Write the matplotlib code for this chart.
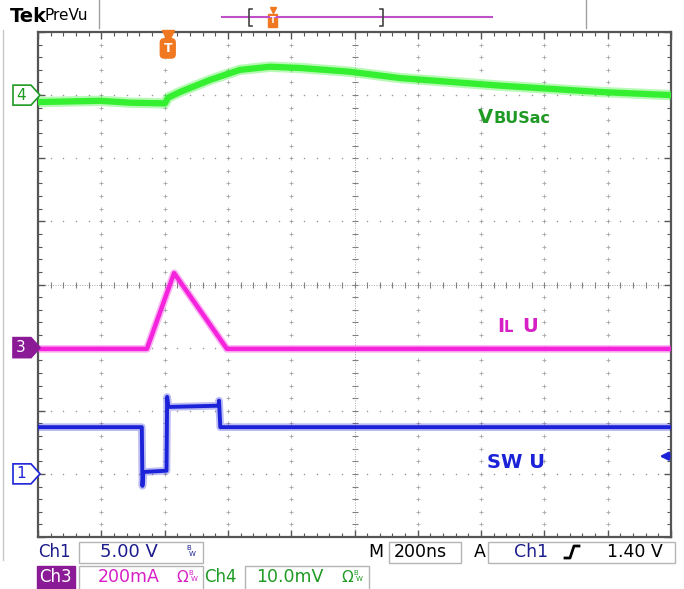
import numpy as np
import matplotlib
matplotlib.use('Agg')
from matplotlib import pyplot as plt
from matplotlib.patches import Polygon, Rectangle

W, H = 684, 589

# graticule box on the screen (pixels)
GX0, GX1, GY0, GY1 = 38, 671, 32, 537

# timebase / vertical setup
ns_per_div = 200
n_xdiv, n_ydiv = 10, 8
ch1_scale, ch1_pos = 5.0, 1.0      # V/div, div
ch3_scale, ch3_pos = 200.0, 3.0    # mA/div, div
ch4_scale, ch4_pos = 10.0, 7.0     # mV/div, div
trig_pos_ns = 410
trig_level = 1.40                  # V on Ch1

# Ch4 - VBUSac (mV)
t_vbus = [0, 196, 291, 401, 411, 449, 543, 638, 733, 828, 986, 1144, 1302, 1460, 1618, 1776, 2000]
v_vbus = [-1.1, -0.9, -1.2, -1.3, -0.4, 0.5, 2.4, 4.0, 4.5, 4.3, 3.7, 2.7, 2.1, 1.5, 1.0, 0.5, 0.0]

# Ch3 - IL U (mA)
t_il = [0, 344, 430, 597, 2000]
i_il = [-4, -4, 236, -4, -4]

# Ch1 - SW U (V)
t_sw = [0, 328, 330, 333, 406, 408, 412, 570, 572, 576, 2000]
v_sw = [3.7, 3.7, -0.95, 0.15, 0.25, 6.1, 5.3, 5.4, 5.8, 3.7, 3.7]

GREEN = '#34f030'
GREEN_TXT = '#1f9a24'
MAGENTA = '#f524dc'
MAG_TXT = '#d61fc4'
BLUE = '#1c22d8'
NAVY = '#1c1c8c'
PURPLE = '#8a1a96'
ORANGE = '#f07820'
GRID = '#a8a8a8'

fig = plt.figure(figsize=(W / 100, H / 100), dpi=100)
ax = fig.add_axes([GX0 / W, 1 - GY1 / H, (GX1 - GX0) / W, (GY1 - GY0) / H])
ax.set_xlim(0, n_xdiv * ns_per_div)
ax.set_ylim(0, n_ydiv)

# graticule
minor_x = np.arange(0, n_xdiv * ns_per_div + 1, ns_per_div / 5)
minor_y = np.arange(0, n_ydiv + 0.01, 0.2)
for k in range(1, n_xdiv):
    if k == n_xdiv // 2:
        continue
    ax.plot(np.full(minor_y.shape, k * ns_per_div), minor_y, '+', ms=2.6, mew=0.6, color=GRID, zorder=1)
for k in range(1, n_ydiv):
    if k == n_ydiv // 2:
        continue
    ax.plot(minor_x, np.full(minor_x.shape, float(k)), 'o', ms=1.1, mew=0, color='#9a9a9a', zorder=1)
xc, yc = n_xdiv * ns_per_div / 2, n_ydiv / 2
ax.axvline(xc, ls=(0, (1, 1.5)), lw=0.7, color=GRID, zorder=1)
ax.axhline(yc, ls=(0, (1, 1.5)), lw=0.7, color=GRID, zorder=1)
ax.plot(np.full(minor_y.shape, xc), minor_y, '_', ms=5, mew=0.8, color='#808080', zorder=1)
ax.plot(minor_x, np.full(minor_x.shape, yc), '|', ms=5, mew=0.8, color='#808080', zorder=1)

ax.set_xticks(np.arange(0, n_xdiv * ns_per_div + 1, ns_per_div))
ax.set_xticks(minor_x, minor=True)
ax.set_yticks(np.arange(0, n_ydiv + 1))
ax.set_yticks(minor_y, minor=True)
ax.tick_params(which='both', direction='in', top=True, right=True,
               labelbottom=False, labelleft=False, color='#555555')
ax.tick_params(which='major', length=5, width=1)
ax.tick_params(which='minor', length=3, width=0.8)
for s in ax.spines.values():
    s.set_color('#555555')
    s.set_linewidth(1.6)

# traces
y4 = ch4_pos + np.array(v_vbus) / ch4_scale
y3 = ch3_pos + np.array(i_il) / ch3_scale
y1 = ch1_pos + np.array(v_sw) / ch1_scale
ax.plot(t_vbus, y4, color=GREEN, lw=7.5, alpha=0.35, solid_joinstyle='round', zorder=3)
ax.plot(t_vbus, y4, color=GREEN, lw=4.5, solid_joinstyle='round', zorder=3)
ax.plot(t_il, y3, color=MAGENTA, lw=5.5, alpha=0.35, zorder=3)
ax.plot(t_il, y3, color=MAGENTA, lw=3.2, zorder=3)
ax.plot(t_sw, y1, color=BLUE, lw=5.5, alpha=0.3, zorder=3)
ax.plot(t_sw, y1, color=BLUE, lw=2.8, zorder=3)

# trigger level arrow (Ch1)
lvl = ch1_pos + trig_level / ch1_scale
ax.annotate('', xy=(1955, lvl), xytext=(2005, lvl),
            arrowprops=dict(arrowstyle='-|>', color=BLUE, lw=1.8, mutation_scale=12),
            annotation_clip=False, zorder=4)

# trigger position marker
ax.plot([trig_pos_ns], [n_ydiv - 0.07], 'v', ms=8, color=ORANGE, clip_on=False, zorder=5)
ax.text(trig_pos_ns, n_ydiv - 0.26, 'T', ha='center', va='center', color='white',
        fontsize=9, fontweight='bold', zorder=5,
        bbox=dict(boxstyle='round,pad=0.25,rounding_size=0.3', fc=ORANGE, ec=ORANGE))

# trace labels
ax.text(1389, 6.56, 'V', color=GREEN_TXT, fontsize=14, fontweight='bold', va='baseline')
ax.text(1440, 6.56, 'BUSac', color=GREEN_TXT, fontsize=11.5, fontweight='bold', va='baseline')
ax.text(1451, 3.24, 'I', color=MAG_TXT, fontsize=14, fontweight='bold', va='baseline')
ax.text(1470, 3.24, 'L', color=MAG_TXT, fontsize=10.5, fontweight='bold', va='baseline')
ax.text(1530, 3.24, 'U', color=MAG_TXT, fontsize=14, fontweight='bold', va='baseline')
ax.text(1418, 1.10, 'SW U', color=BLUE, fontsize=14, fontweight='bold', va='baseline')

# overlay in screen pixels for the frame and readouts
ov = fig.add_axes([0, 0, 1, 1], facecolor='none')
ov.set_xlim(0, W)
ov.set_ylim(H, 0)
ov.axis('off')
ov.set_zorder(3)


def ypix(div):
    return GY1 - div * (GY1 - GY0) / n_ydiv


def badge(ch_pos, label, color, filled):
    yy = ypix(ch_pos)
    pts = [(13, yy - 10), (31, yy - 10), (40, yy), (31, yy + 10), (13, yy + 10)]
    ov.add_patch(Polygon(pts, closed=True, fc=color if filled else 'white', ec=color, lw=1.2))
    ov.text(21, yy, label, ha='center', va='center', fontsize=11,
            color='white' if filled else color)


badge(ch4_pos, '4', GREEN_TXT, False)
badge(ch3_pos, '3', PURPLE, True)
badge(ch1_pos, '1', BLUE, False)

# left frame line
ov.plot([3, 3], [30, 560], color='#c8c8c8', lw=1)

# top bar
ov.text(10, 17, 'Tek', fontsize=14, fontweight='bold', va='center', color='black')
ov.text(44, 16, 'PreVu', fontsize=11, va='center', color='black')
ov.plot([99, 99], [0, 28], color='#a0a0a0', lw=1)
ov.plot([586, 586], [0, 28], color='#a0a0a0', lw=1)
ov.plot([222, 492], [17, 17], color='#c050c8', lw=1.5)
ov.plot([252, 249, 249, 252], [9, 9, 26, 26], color='#444444', lw=1.2)
ov.plot([380, 383, 383, 380], [9, 9, 26, 26], color='#444444', lw=1.2)
ov.add_patch(Rectangle((268, 14), 9, 13, fc=ORANGE, ec=ORANGE))
ov.plot([272.5], [10], 'v', ms=5, color=ORANGE)
ov.text(272.5, 20.5, 'T', ha='center', va='center', fontsize=6, color='white', fontweight='bold')

# bottom readouts
BOX = '#b4b4b4'
r1, r2 = 552, 577
ov.text(38, r1, 'Ch1', fontsize=12, color=NAVY, va='center')
ov.add_patch(Rectangle((79, 542), 124, 21, fc='none', ec=BOX, lw=1))
ov.text(100, r1, '5.00 V', fontsize=13, color=NAVY, va='center')
ov.text(186, r1 - 4, 'B', fontsize=5, color=NAVY, va='center')
ov.text(189, r1 + 2, 'W', fontsize=5, color=NAVY, va='center')
ov.text(368, r1, 'M', fontsize=12.5, color='black', va='center')
ov.add_patch(Rectangle((389, 542), 72, 21, fc='none', ec=BOX, lw=1))
ov.text(394, r1, '200ns', fontsize=12.5, color='black', va='center')
ov.text(474, r1, 'A', fontsize=12.5, color='black', va='center')
ov.add_patch(Rectangle((488, 542), 187, 21, fc='none', ec=BOX, lw=1))
ov.text(514, r1, 'Ch1', fontsize=12.5, color=NAVY, va='center')
ov.plot([565, 570, 574, 579], [558, 558, 546, 546], color='black', lw=2)
ov.text(607, r1, '1.40 V', fontsize=12.5, color='black', va='center')

ov.add_patch(Rectangle((37, 566), 38, 23, fc=PURPLE, ec=PURPLE))
ov.text(39, r2, 'Ch3', fontsize=12, color='white', va='center')
ov.add_patch(Rectangle((79, 566), 124, 24, fc='none', ec=BOX, lw=1))
ov.text(98, r2, '200mA', fontsize=12.5, color=MAG_TXT, va='center')
ov.text(176, r2, 'Ω', fontsize=11, color=MAG_TXT, va='center')
ov.text(188, r2 - 4, 'B', fontsize=5, color=MAG_TXT, va='center')
ov.text(191, r2 + 2, 'W', fontsize=5, color=MAG_TXT, va='center')
ov.text(204, r2, 'Ch4', fontsize=12, color=GREEN_TXT, va='center')
ov.add_patch(Rectangle((245, 566), 124, 24, fc='none', ec=BOX, lw=1))
ov.text(256, r2, '10.0mV', fontsize=12.5, color=GREEN_TXT, va='center')
ov.text(341, r2, 'Ω', fontsize=11, color=GREEN_TXT, va='center')
ov.text(353, r2 - 4, 'B', fontsize=5, color=GREEN_TXT, va='center')
ov.text(356, r2 + 2, 'W', fontsize=5, color=GREEN_TXT, va='center')

fig.savefig('out.png', dpi=100)
